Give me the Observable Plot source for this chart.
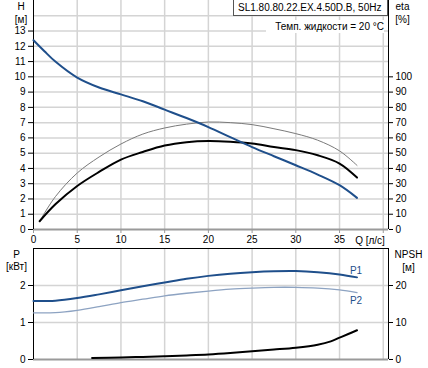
<!DOCTYPE html>
<html><head><meta charset="utf-8">
<script src="https://cdn.jsdelivr.net/npm/d3@7"></script>
<script src="https://cdn.jsdelivr.net/npm/@observablehq/plot@0.6"></script>
<style>
body{margin:0;background:#fff;font-family:"Liberation Sans",Arial,sans-serif;}
#wrap{position:relative;width:428px;height:368px;overflow:hidden;background:#fff;}
#top,#bot{position:absolute;left:0;}
#top{top:0;}
#bot{top:246px;}
.title{position:absolute;left:233px;top:-1px;width:155px;height:17px;border:1px solid #555;background:#fff;font-size:10px;line-height:16px;padding-left:4px;box-sizing:border-box;white-space:nowrap;color:#000;}
.temp{position:absolute;left:266px;top:20px;width:118px;height:13px;background:#fff;font-size:10px;line-height:13px;text-align:right;white-space:nowrap;color:#000;}
</style></head><body>
<div id="wrap"><div id="top"></div><div id="bot"></div>
<div class="title">SL1.80.80.22.EX.4.50D.B, 50Hz</div>
<div class="temp">Темп. жидкости = 20 °C</div>
</div>
<script>
// Q–H curve
const qH   = [0, 1.25, 2.5, 5, 7.5, 10, 12.5, 15, 17.5, 20, 22.5, 25, 27.5, 30, 32.5, 35, 37];
const head = [12.4, 11.68, 11.0, 9.95, 9.3, 8.85, 8.4, 7.85, 7.3, 6.71, 6.05, 5.4, 4.8, 4.21, 3.6, 2.9, 2.07];
// efficiency curves [%]
const qEta     = [0.7, 2.5, 5, 7.5, 10, 12.5, 15, 17.5, 20, 22.5, 25, 27.5, 30, 32.5, 35, 37];
const etaTotal = [5.4, 16.5, 28.5, 37.7, 45.8, 50.8, 55, 57.2, 58, 57.5, 56.3, 54, 52, 48.6, 43.2, 34];
const etaHyd   = [5.4, 21.5, 37, 47.5, 56, 62.5, 66.5, 69, 70.4, 70, 68.7, 66, 62.8, 58.5, 51.5, 42];
// power curves [kW]
const qP = [0, 2.5, 5, 7.5, 10, 12.5, 15, 17.5, 20, 22.5, 25, 27.5, 30, 32.5, 35, 37];
const p1 = [1.58, 1.59, 1.66, 1.76, 1.87, 1.98, 2.08, 2.18, 2.26, 2.32, 2.36, 2.385, 2.39, 2.36, 2.3, 2.22];
const p2 = [1.26, 1.265, 1.33, 1.43, 1.54, 1.63, 1.72, 1.79, 1.85, 1.9, 1.93, 1.95, 1.95, 1.93, 1.88, 1.81];
// NPSH [m]
const qNpsh = [6.7, 10, 12.5, 15, 17.5, 20, 22.5, 25, 27.5, 30, 32.5, 34, 35, 36, 37];
const npsh  = [0.4, 0.55, 0.7, 0.9, 1.1, 1.35, 1.75, 2.25, 2.7, 3.2, 4.0, 4.9, 5.9, 6.9, 7.9];
// ticks
const qTicks    = [0, 5, 10, 15, 20, 25, 30, 35, 40];
const hTicks    = [0, 1, 2, 3, 4, 5, 6, 7, 8, 9, 10, 11, 12, 13];
const hGrid     = [1, 2, 3, 4, 5, 6, 7, 8, 9, 10, 11, 12, 13, 14];
const etaTicks  = [0, 10, 20, 30, 40, 50, 60, 70, 80, 90, 100];
const pTicks    = [0, 1, 2];
const pGrid     = [1, 2];
const npshTicks = [0, 10, 20];
const xDomain = [0, 40.6];
const hDomain = [0, 15];
const pDomain = [0, 3];

const BLUE = "#1f4f8b";
const GRID = "#d4d4d4";
const CURVE = "catmull-rom";
const font = {fontFamily: "Liberation Sans, Arial, sans-serif", fontSize: "10px", color: "#000", background: "transparent"};
const mid = {textAnchor: "middle", lineAnchor: "middle"};

const headData = qH.map((q, i) => ({q, v: head[i]}));
const etaTData = qEta.map((q, i) => ({q, v: etaTotal[i]}));
const etaHData = qEta.map((q, i) => ({q, v: etaHyd[i]}));
const p1Data = qP.map((q, i) => ({q, v: p1[i]}));
const p2Data = qP.map((q, i) => ({q, v: p2[i]}));
const npshData = qNpsh.map((q, i) => ({q, v: npsh[i]}));

const topPlot = Plot.plot({
  width: 428, height: 246,
  marginLeft: 33, marginRight: 40, marginTop: 0, marginBottom: 17,
  style: font,
  x: {domain: xDomain, label: null},
  y: {domain: hDomain, label: null},
  marks: [
    Plot.gridX(qTicks.slice(1), {stroke: GRID, strokeOpacity: 1, strokeWidth: 1.5}),
    Plot.gridY(hGrid, {stroke: GRID, strokeOpacity: 1, strokeWidth: 1.5}),
    Plot.ruleY([hDomain[0]], {stroke: "#9a9a9a", strokeWidth: 2}),
    Plot.ruleX([xDomain[0]], {stroke: "#000", strokeWidth: 1}),
    Plot.ruleX([xDomain[1]], {stroke: "#000", strokeWidth: 1}),
    Plot.axisX(qTicks, {tickSize: 4, tickPadding: 2, stroke: "#999", label: null,
      tickFormat: d => d === 40 ? "" : d}),
    Plot.axisY(hTicks, {anchor: "left", tickSize: 5, tickPadding: 3, label: null}),
    Plot.axisY(etaTicks.map(v => v / 10), {anchor: "right", tickSize: 4, tickPadding: 3, label: null,
      tickFormat: d => Math.round(d * 10)}),
    Plot.line(etaHData, {x: "q", y: d => d.v / 10, stroke: "#7a7a7a", strokeWidth: 1, curve: CURVE}),
    Plot.line(etaTData, {x: "q", y: d => d.v / 10, stroke: "#000", strokeWidth: 2, curve: CURVE}),
    Plot.line(headData, {x: "q", y: "v", stroke: BLUE, strokeWidth: 2, curve: CURVE}),
    Plot.text(["H"], {frameAnchor: "top-left", dx: -12.5, dy: 6, ...mid}),
    Plot.text(["[м]"], {frameAnchor: "top-left", dx: -12.5, dy: 19, ...mid}),
    Plot.text(["eta"], {frameAnchor: "top-right", dx: 14, dy: 6, ...mid}),
    Plot.text(["[%]"], {frameAnchor: "top-right", dx: 14, dy: 19, ...mid}),
    Plot.text(["Q [л/с]"], {frameAnchor: "bottom-right", dx: -18.5, dy: 11, ...mid})
  ]
});
document.getElementById("top").append(topPlot);

const botPlot = Plot.plot({
  width: 428, height: 122,
  marginLeft: 33, marginRight: 40, marginTop: 2, marginBottom: 9,
  style: font,
  x: {domain: xDomain, label: null, axis: null},
  y: {domain: pDomain, label: null},
  marks: [
    Plot.gridX(qTicks.slice(1), {stroke: GRID, strokeOpacity: 1, strokeWidth: 1.5}),
    Plot.gridY(pGrid, {stroke: GRID, strokeOpacity: 1, strokeWidth: 1.5}),
    Plot.ruleY([pDomain[0]], {stroke: "#9a9a9a", strokeWidth: 2}),
    Plot.ruleY([pDomain[1]], {stroke: "#000", strokeWidth: 1}),
    Plot.ruleX([xDomain[0]], {stroke: "#000", strokeWidth: 1}),
    Plot.ruleX([xDomain[1]], {stroke: "#000", strokeWidth: 1}),
    Plot.axisY(pTicks, {anchor: "left", tickSize: 5, tickPadding: 3, label: null}),
    Plot.axisY(npshTicks.map(v => v / 10), {anchor: "right", tickSize: 4, tickPadding: 3, label: null,
      tickFormat: d => Math.round(d * 10)}),
    Plot.line(p2Data, {x: "q", y: "v", stroke: "#8da3c2", strokeWidth: 1.3, curve: CURVE}),
    Plot.line(p1Data, {x: "q", y: "v", stroke: BLUE, strokeWidth: 2, curve: CURVE}),
    Plot.line(npshData, {x: "q", y: d => d.v / 10, stroke: "#000", strokeWidth: 2, curve: CURVE}),
    Plot.text([p1Data[p1Data.length - 1]], {x: "q", y: "v", text: () => "P1", fill: BLUE, dx: -1, dy: -7, ...mid}),
    Plot.text([p2Data[p2Data.length - 1]], {x: "q", y: "v", text: () => "P2", fill: BLUE, dx: -1, dy: 8, ...mid}),
    Plot.text(["P"], {frameAnchor: "top-left", dx: -17, dy: 6, ...mid}),
    Plot.text(["[кВт]"], {frameAnchor: "top-left", dx: -17, dy: 18, ...mid}),
    Plot.text(["NPSH"], {frameAnchor: "top-right", dx: 20, dy: 6, ...mid}),
    Plot.text(["[м]"], {frameAnchor: "top-right", dx: 20, dy: 19, ...mid})
  ]
});
document.getElementById("bot").append(botPlot);
</script>
</body></html>
